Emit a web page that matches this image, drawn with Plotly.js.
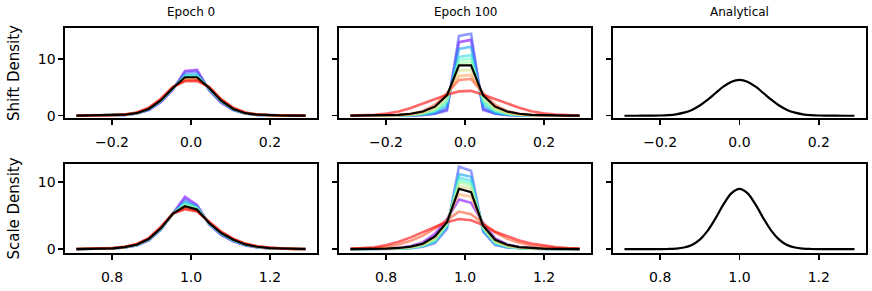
<!DOCTYPE html>
<html>
<head>
<meta charset="utf-8">
<script src="https://cdn.plot.ly/plotly-3.0.1.min.js"></script>
<style>html,body{margin:0;padding:0;background:#fff;}#chart{width:872px;height:291px;}</style>
</head>
<body>
<div id="chart"></div>
<script>
// ---------- data ----------
const colTitles = ['Epoch 0', 'Epoch 100', 'Analytical'];
const rowLabels = ['Shift Density', 'Scale Density'];

const xShift = [-0.29,-0.2595,-0.2289,-0.1984,-0.1679,-0.1374,-0.1068,-0.0763,-0.0458,-0.0153,0.0153,0.0458,0.0763,0.1068,0.1374,0.1679,0.1984,0.2289,0.2595,0.29];
const xScale = [0.71,0.7405,0.7711,0.8016,0.8321,0.8626,0.8932,0.9237,0.9542,0.9847,1.0153,1.0458,1.0763,1.1068,1.1374,1.1679,1.1984,1.2289,1.2595,1.29];

// Shift density, epoch 0 (one series per run, violet -> red)
const shiftE0 = [
 [0.01,0.01,0.03,0.06,0.14,0.38,1.0,2.4,4.6,7.9, 8.1,4.5,2.3,1.0,0.38,0.14,0.06,0.03,0.01,0.01],
 [0.01,0.02,0.03,0.07,0.15,0.4,1.05,2.5,4.7,7.6, 7.8,4.6,2.4,1.05,0.4,0.15,0.07,0.03,0.02,0.01],
 [0.01,0.02,0.04,0.07,0.16,0.42,1.1,2.55,4.8,7.2, 7.3,4.7,2.5,1.1,0.42,0.16,0.07,0.04,0.02,0.01],
 [0.01,0.02,0.04,0.08,0.17,0.43,1.15,2.6,4.85,7.0, 7.1,4.8,2.55,1.15,0.43,0.17,0.08,0.04,0.02,0.01],
 [0.01,0.02,0.04,0.08,0.18,0.45,1.2,2.65,4.9,6.9, 6.95,4.85,2.6,1.2,0.45,0.18,0.08,0.04,0.02,0.01],
 [0.01,0.02,0.04,0.08,0.18,0.46,1.22,2.7,4.95,6.8, 6.8,4.9,2.65,1.22,0.46,0.18,0.08,0.04,0.02,0.01],
 [0.01,0.02,0.05,0.09,0.19,0.48,1.25,2.75,4.95,6.6, 6.65,4.95,2.7,1.25,0.48,0.19,0.09,0.05,0.02,0.01],
 [0.01,0.02,0.05,0.09,0.2,0.5,1.3,2.8,5.0,6.45, 6.5,5.0,2.8,1.3,0.5,0.2,0.09,0.05,0.02,0.01],
 [0.01,0.03,0.05,0.1,0.21,0.52,1.35,2.9,5.05,6.3, 6.3,5.05,2.85,1.35,0.52,0.21,0.1,0.05,0.03,0.01],
 [0.02,0.03,0.06,0.11,0.23,0.56,1.4,3.0,5.1,6.1, 6.15,5.1,2.95,1.4,0.56,0.23,0.11,0.06,0.03,0.02]
];
const shiftE0Mean = [0.01,0.02,0.04,0.08,0.18,0.45,1.2,2.7,4.9,6.8, 6.8,4.9,2.65,1.2,0.45,0.18,0.08,0.04,0.02,0.01];

// Shift density, epoch 100
const shiftE100 = [
 [0,0,0.01,0.01,0.02,0.05,0.14,0.4,1.1,13.0, 13.4,1.2,0.4,0.14,0.05,0.02,0.01,0.01,0,0],
 [0,0,0,0.01,0.02,0.04,0.12,0.35,0.9,14.1, 14.5,1.0,0.35,0.12,0.04,0.02,0.01,0,0,0],
 [0,0,0.01,0.01,0.03,0.07,0.18,0.5,1.6,11.8, 12.2,1.7,0.5,0.18,0.07,0.03,0.01,0.01,0,0],
 [0,0.01,0.01,0.02,0.04,0.1,0.25,0.7,2.2,10.4, 10.7,2.3,0.7,0.25,0.1,0.04,0.02,0.01,0.01,0],
 [0,0.01,0.01,0.02,0.05,0.12,0.3,0.85,2.5,9.8, 10.1,2.6,0.85,0.3,0.12,0.05,0.02,0.01,0.01,0],
 [0.01,0.01,0.02,0.03,0.06,0.15,0.38,1.0,2.8,9.3, 9.5,2.9,1.0,0.38,0.15,0.06,0.03,0.02,0.01,0.01],
 [0.01,0.01,0.02,0.04,0.08,0.2,0.5,1.3,3.4,8.0, 8.1,3.4,1.3,0.5,0.2,0.08,0.04,0.02,0.01,0.01],
 [0.01,0.02,0.03,0.06,0.12,0.28,0.65,1.6,3.8,7.0, 7.2,3.8,1.6,0.65,0.28,0.12,0.06,0.03,0.02,0.01],
 [0.01,0.02,0.04,0.08,0.16,0.35,0.8,1.9,4.0,6.3, 6.5,4.0,1.9,0.8,0.35,0.16,0.08,0.04,0.02,0.01],
 [0.05,0.09,0.18,0.38,0.75,1.35,2.1,2.9,3.7,4.3, 4.4,3.7,2.9,2.1,1.4,0.8,0.42,0.2,0.1,0.05]
];
const shiftE100Mean = [0.01,0.02,0.04,0.08,0.16,0.35,0.75,1.6,3.6,8.9, 8.9,3.6,1.6,0.75,0.35,0.16,0.08,0.04,0.02,0.01];

// Scale density, epoch 0
const scaleE0 = [
 [0.01,0.01,0.04,0.09,0.24,0.55,1.3,2.9,5.3,7.8, 6.6,3.7,2.1,1.15,0.55,0.26,0.11,0.05,0.02,0.01],
 [0.01,0.02,0.04,0.1,0.25,0.58,1.35,2.95,5.3,7.4, 6.4,3.75,2.2,1.2,0.6,0.28,0.12,0.05,0.02,0.01],
 [0.01,0.02,0.04,0.1,0.26,0.6,1.4,3.0,5.3,7.0, 6.3,3.8,2.25,1.25,0.62,0.3,0.13,0.06,0.03,0.01],
 [0.01,0.02,0.05,0.11,0.27,0.62,1.42,3.0,5.3,6.9, 6.2,3.85,2.3,1.3,0.65,0.31,0.13,0.06,0.03,0.01],
 [0.01,0.02,0.05,0.11,0.28,0.63,1.45,3.05,5.3,6.7, 6.1,3.85,2.35,1.35,0.67,0.32,0.14,0.06,0.03,0.02],
 [0.01,0.02,0.05,0.12,0.29,0.65,1.48,3.1,5.3,6.55, 6.0,3.9,2.4,1.38,0.7,0.34,0.15,0.07,0.03,0.02],
 [0.01,0.02,0.05,0.12,0.3,0.67,1.52,3.15,5.3,6.4, 5.9,3.95,2.45,1.42,0.72,0.36,0.16,0.07,0.03,0.02],
 [0.01,0.03,0.06,0.13,0.31,0.7,1.56,3.2,5.3,6.25, 5.8,3.95,2.5,1.46,0.75,0.38,0.17,0.08,0.04,0.02],
 [0.01,0.03,0.06,0.14,0.33,0.73,1.6,3.25,5.3,6.1, 5.7,4.0,2.55,1.5,0.78,0.4,0.18,0.08,0.04,0.02],
 [0.02,0.03,0.07,0.15,0.35,0.76,1.65,3.3,5.3,5.95, 5.6,4.05,2.6,1.55,0.82,0.42,0.2,0.09,0.04,0.02]
];
const scaleE0Mean = [0.01,0.02,0.05,0.12,0.3,0.65,1.5,3.1,5.3,6.4, 5.9,3.9,2.4,1.4,0.7,0.35,0.15,0.07,0.03,0.02];

// Scale density, epoch 100
const scaleE100 = [
 [0.01,0.02,0.04,0.09,0.2,0.45,1.0,2.3,4.5,7.4, 6.9,3.9,1.6,0.7,0.32,0.15,0.07,0.03,0.02,0.01],
 [0,0.01,0.01,0.03,0.07,0.15,0.35,0.9,3.0,12.3, 11.7,2.6,0.6,0.25,0.1,0.05,0.02,0.01,0,0],
 [0,0.01,0.02,0.04,0.08,0.18,0.42,1.1,3.3,11.2, 10.8,2.8,0.75,0.3,0.12,0.06,0.03,0.01,0.01,0],
 [0,0.01,0.02,0.04,0.09,0.2,0.48,1.2,3.5,10.7, 10.2,3.0,0.85,0.35,0.14,0.07,0.03,0.01,0.01,0],
 [0.01,0.01,0.02,0.05,0.1,0.22,0.52,1.3,3.6,10.3, 9.8,3.1,0.95,0.4,0.16,0.08,0.03,0.02,0.01,0],
 [0.01,0.01,0.03,0.05,0.11,0.24,0.56,1.4,3.7,10.0, 9.4,3.2,1.0,0.42,0.18,0.08,0.04,0.02,0.01,0.01],
 [0.01,0.02,0.03,0.06,0.13,0.28,0.62,1.55,3.9,9.4, 9.0,3.3,1.1,0.48,0.2,0.09,0.04,0.02,0.01,0.01],
 [0.01,0.02,0.04,0.08,0.17,0.36,0.78,1.8,4.2,8.2, 7.8,3.6,1.35,0.58,0.25,0.12,0.05,0.03,0.01,0.01],
 [0.03,0.07,0.15,0.35,0.7,1.25,2.0,3.1,4.4,5.6, 5.2,3.9,2.5,1.55,0.95,0.55,0.3,0.15,0.08,0.04],
 [0.05,0.11,0.26,0.6,1.1,1.75,2.55,3.3,4.0,4.5, 4.3,3.6,2.6,1.9,1.3,0.85,0.52,0.3,0.16,0.08]
];
const scaleE100Mean = [0.01,0.02,0.04,0.08,0.17,0.38,0.8,1.9,4.0,9.0, 8.5,3.5,1.4,0.65,0.3,0.15,0.07,0.04,0.02,0.01];

// Analytical densities
const xShiftAna = [-0.29,-0.26,-0.23,-0.20,-0.18,-0.16,-0.14,-0.12,-0.10,-0.08,-0.06,-0.04,-0.02,0,0.02,0.04,0.06,0.08,0.10,0.12,0.14,0.16,0.18,0.20,0.23,0.26,0.29];
const yShiftAna = [0,0.001,0.008,0.041,0.11,0.25,0.54,1.03,1.80,2.83,4.02,5.17,6.02,6.33,6.02,5.17,4.02,2.83,1.80,1.03,0.54,0.25,0.11,0.041,0.008,0.001,0];
const xScaleAna = [0.71,0.74,0.77,0.80,0.82,0.84,0.86,0.88,0.90,0.92,0.94,0.96,0.98,1.00,1.02,1.04,1.06,1.08,1.10,1.12,1.14,1.16,1.18,1.20,1.23,1.26,1.29];
const yScaleAna = [0,0,0.0005,0.006,0.02,0.08,0.24,0.63,1.42,2.76,4.63,6.70,8.36,9.0,8.36,6.70,4.63,2.76,1.42,0.63,0.24,0.08,0.02,0.006,0.0005,0,0];

const shiftTicks = [-0.2, 0.0, 0.2];
const shiftTickText = ['\u22120.2', '0.0', '0.2'];
const scaleTicks = [0.8, 1.0, 1.2];
const scaleTickText = ['0.8', '1.0', '1.2'];
const yTicks = [0, 10];
const yTickText = ['0', '10'];

// ---------- styling ----------
const runColors = ['rgba(128,0,255,0.6)','rgba(71,87,251,0.6)','rgba(14,164,240,0.6)','rgba(43,221,221,0.6)',
  'rgba(99,251,195,0.6)','rgba(156,251,164,0.6)','rgba(213,221,128,0.6)','rgba(255,164,87,0.6)',
  'rgba(255,87,44,0.6)','rgba(255,0,0,0.6)'];
const FONT = 'DejaVu Sans, sans-serif';

const traces = [];
function addRuns(x, runs, mean, xa, ya) {
  runs.forEach((y, i) => traces.push({x: x, y: y, xaxis: xa, yaxis: ya, type: 'scatter', mode: 'lines',
    line: {color: runColors[i], width: 2.6}, hoverinfo: 'skip', showlegend: false}));
  traces.push({x: x, y: mean, xaxis: xa, yaxis: ya, type: 'scatter', mode: 'lines',
    line: {color: 'black', width: 2.2}, showlegend: false});
}
addRuns(xShift, shiftE0, shiftE0Mean, 'x', 'y');
addRuns(xShift, shiftE100, shiftE100Mean, 'x2', 'y2');
traces.push({x: xShiftAna, y: yShiftAna, xaxis: 'x3', yaxis: 'y3', type: 'scatter', mode: 'lines',
  line: {color: 'black', width: 2.2, shape: 'spline'}, showlegend: false});
addRuns(xScale, scaleE0, scaleE0Mean, 'x4', 'y4');
addRuns(xScale, scaleE100, scaleE100Mean, 'x5', 'y5');
traces.push({x: xScaleAna, y: yScaleAna, xaxis: 'x6', yaxis: 'y6', type: 'scatter', mode: 'lines',
  line: {color: 'black', width: 2.2, shape: 'spline'}, showlegend: false});

const axBase = {showline: true, mirror: true, linecolor: 'black', linewidth: 1.6, ticks: 'outside',
  ticklen: 5, tickwidth: 1.4, tickcolor: 'black', showgrid: false, zeroline: false,
  tickfont: {family: FONT, size: 14, color: 'black'}};
const colDom = [[0, 0.3146], [0.3421, 0.6567], [0.6841, 1]];
const rowDom = [[0.6, 1], [0, 0.3956]];
const shiftRange = [-0.319, 0.319], scaleRange = [0.681, 1.319];
const yRanges = [[-0.4, 15.5], [-0.58, 12.7]];

const layout = {width: 872, height: 291, margin: {l: 65, r: 6, t: 28, b: 38},
  paper_bgcolor: 'white', plot_bgcolor: 'white', font: {family: FONT, color: 'black'},
  showlegend: false, annotations: []};
for (let r = 0; r < 2; r++) {
  for (let c = 0; c < 3; c++) {
    const n = r * 3 + c + 1;
    const xk = n === 1 ? 'xaxis' : 'xaxis' + n;
    const yk = n === 1 ? 'yaxis' : 'yaxis' + n;
    layout[xk] = Object.assign({}, axBase, {domain: colDom[c], anchor: n === 1 ? 'y' : 'y' + n,
      range: r === 0 ? shiftRange : scaleRange, tickvals: r === 0 ? shiftTicks : scaleTicks,
      ticktext: r === 0 ? shiftTickText : scaleTickText, ticklabelstandoff: 6});
    layout[yk] = Object.assign({}, axBase, {domain: rowDom[r], anchor: n === 1 ? 'x' : 'x' + n,
      range: yRanges[r], tickvals: yTicks, ticktext: yTickText, showticklabels: c === 0});
    if (c === 0) layout[yk].title = {text: rowLabels[r], font: {family: FONT, size: 15, color: 'black'}, standoff: 14};
  }
}
const colCenters = [0.1573, 0.4994, 0.8421];
colTitles.forEach((t, i) => layout.annotations.push({text: t, xref: 'paper', yref: 'paper',
  x: colCenters[i], y: 1.069, xanchor: 'center', yanchor: 'middle', showarrow: false,
  font: {family: FONT, size: 12, color: 'black'}}));

Plotly.newPlot('chart', traces, layout, {staticPlot: true, displayModeBar: false});
</script>
</body>
</html>
